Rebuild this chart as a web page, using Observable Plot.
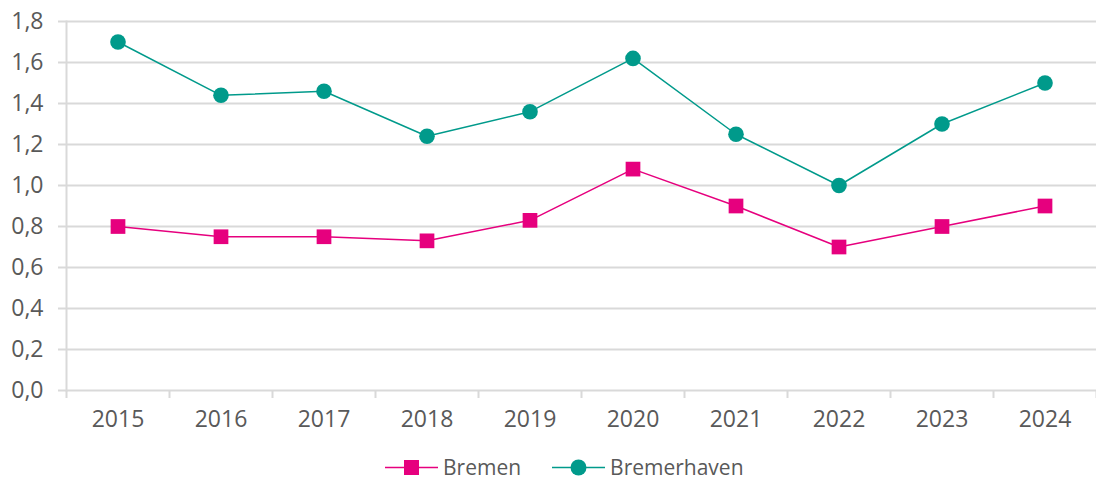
<!DOCTYPE html>
<html>
<head>
<meta charset="utf-8">
<script src="https://cdn.jsdelivr.net/npm/d3@7"></script>
<script src="https://cdn.jsdelivr.net/npm/@observablehq/plot@0.6"></script>
<style>
  html, body { margin: 0; background: #fff; font-family: "Open Sans", sans-serif; overflow: hidden; }
  #chart svg { display: block; }
  #legend { box-sizing: border-box; display: flex; justify-content: flex-start; gap: 31px; color: #595959; font-size: 21px; height: 34px; align-items: center; padding-left: 385px; padding-top: 11px; }
  #legend .item { display: flex; align-items: center; gap: 5px; }
  #legend span { line-height: 23px; }
</style>
</head>
<body>
<div id="chart"></div>
<div id="legend"></div>
<script>
const years = [2015, 2016, 2017, 2018, 2019, 2020, 2021, 2022, 2023, 2024];
const bremen = [0.80, 0.75, 0.75, 0.73, 0.83, 1.08, 0.90, 0.70, 0.80, 0.90];
const bremerhaven = [1.70, 1.44, 1.46, 1.24, 1.36, 1.62, 1.25, 1.00, 1.30, 1.50];
const yTicks = [0, 0.2, 0.4, 0.6, 0.8, 1.0, 1.2, 1.4, 1.6, 1.8];
const seriesNames = ["Bremen", "Bremerhaven"];
const seriesColors = ["#e6007e", "#009a8b"];
const seriesSymbols = ["square", "circle"];

const data = [];
years.forEach((yr, i) => {
  data.push({year: yr, value: bremen[i], series: seriesNames[0]});
  data.push({year: yr, value: bremerhaven[i], series: seriesNames[1]});
});
const boundaries = years.map(y => y - 0.5).concat([years[years.length - 1] + 0.5]);
const fmt = d => d.toFixed(1).replace(".", ",");

const chart = Plot.plot({
  width: 1096,
  height: 445,
  marginTop: 21,
  marginBottom: 55,
  marginLeft: 66,
  marginRight: 0,
  style: {fontFamily: "Open Sans, sans-serif", fontSize: "23px", color: "#595959", background: "#fff"},
  x: {type: "linear", domain: [boundaries[0], boundaries[boundaries.length - 1]]},
  y: {domain: [0, 1.8]},
  marks: [
    Plot.gridY(yTicks, {stroke: "#d9d9d9", strokeOpacity: 1, strokeWidth: 2}),
    Plot.axisY(yTicks, {tickSize: 8, tickPadding: 15, tickFormat: fmt, stroke: "#d9d9d9", strokeWidth: 2, fill: "#595959", label: null}),
    Plot.axisX(boundaries, {tickSize: 8, tickFormat: () => "", stroke: "#d9d9d9", strokeWidth: 2, label: null}),
    Plot.axisX(years, {tickSize: 0, tickPadding: 20, tickFormat: d => String(d), fill: "#595959", label: null}),
    Plot.frame({anchor: "left", stroke: "#d9d9d9", strokeWidth: 2}),
    Plot.line(data, {x: "year", y: "value", z: "series", stroke: "series", strokeWidth: 1.5}),
    Plot.dot(data.filter(d => d.series === seriesNames[0]), {x: "year", y: "value", fill: seriesColors[0], symbol: "square", r: 8.3}),
    Plot.dot(data.filter(d => d.series === seriesNames[1]), {x: "year", y: "value", fill: seriesColors[1], symbol: "circle", r: 7.8})
  ],
  color: {domain: seriesNames, range: seriesColors}
});
document.getElementById("chart").appendChild(chart);

const legend = document.getElementById("legend");
seriesNames.forEach((name, i) => {
  const item = document.createElement("div");
  item.className = "item";
  const marker = seriesSymbols[i] === "square"
    ? `<rect x="19" y="4" width="15" height="15" fill="${seriesColors[i]}"/>`
    : `<circle cx="26.5" cy="11.5" r="8" fill="${seriesColors[i]}"/>`;
  item.innerHTML = `<svg width="53" height="23"><line x1="0" x2="53" y1="11.5" y2="11.5" stroke="${seriesColors[i]}" stroke-width="1.5"/>${marker}</svg><span>${name}</span>`;
  legend.appendChild(item);
});
</script>
</body>
</html>
